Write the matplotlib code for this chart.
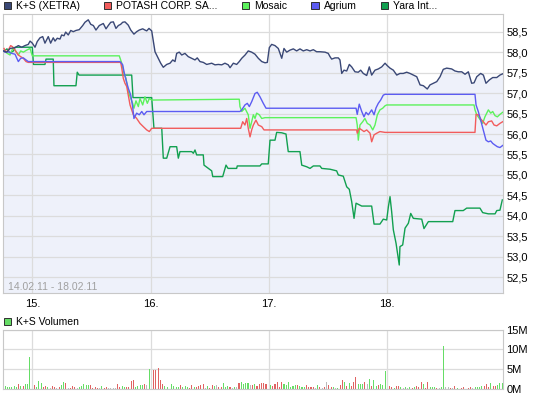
import numpy as np
import matplotlib.pyplot as plt
from matplotlib.patches import Patch

plt.rcParams['font.family'] = ['Liberation Sans', 'DejaVu Sans']

# day position (15. = 15.0 ...) and price
ks_t = [14.755, 14.784, 14.812, 14.854, 14.882, 14.910, 14.938, 14.966, 14.981, 15.000,
        15.023, 15.042, 15.065, 15.088, 15.107, 15.135, 15.155, 15.177, 15.192, 15.211,
        15.234, 15.248, 15.268, 15.282, 15.304, 15.325, 15.346, 15.369, 15.397, 15.426,
        15.445, 15.473, 15.494, 15.516, 15.538, 15.566, 15.600, 15.623, 15.642, 15.663,
        15.685, 15.707, 15.727, 15.747, 15.764, 15.783, 15.811, 15.832, 15.859, 15.882,
        15.904, 15.933, 15.952, 15.967, 15.986, 16.009, 16.023, 16.037, 16.065, 16.085,
        16.107, 16.136, 16.164, 16.187, 16.206, 16.220, 16.242, 16.263, 16.290, 16.318,
        16.347, 16.375, 16.394, 16.417, 16.445, 16.474, 16.516, 16.544, 16.572, 16.601,
        16.628, 16.656, 16.671, 16.699, 16.727, 16.749, 16.770, 16.798, 16.825, 16.854,
        16.882, 16.910, 16.939, 16.967, 16.986, 17.003, 17.023, 17.051, 17.079, 17.108,
        17.127, 17.150, 17.178, 17.206, 17.234, 17.262, 17.290, 17.319, 17.347, 17.375,
        17.403, 17.431, 17.474, 17.501, 17.516, 17.530, 17.558, 17.586, 17.600, 17.615,
        17.634, 17.657, 17.679, 17.699, 17.727, 17.755, 17.775, 17.797, 17.826, 17.848,
        17.868, 17.896, 17.924, 17.953, 17.981, 18.000, 18.023, 18.051, 18.080, 18.107,
        18.135, 18.164, 18.192, 18.220, 18.249, 18.277, 18.305, 18.338, 18.361, 18.389,
        18.418, 18.446, 18.473, 18.502, 18.544, 18.572, 18.600, 18.629, 18.657, 18.685,
        18.713, 18.733, 18.756, 18.789, 18.812, 18.834, 18.862, 18.891, 18.925, 18.952,
        18.975]
ks_p = [58.03, 58.00, 58.09, 58.11, 58.16, 58.12, 58.16, 58.19, 58.27, 58.22,
        58.12, 58.26, 58.35, 58.38, 58.22, 58.38, 58.22, 58.35, 58.27, 58.34,
        58.32, 58.42, 58.40, 58.49, 58.42, 58.53, 58.50, 58.53, 58.55, 58.65,
        58.73, 58.79, 58.68, 58.65, 58.54, 58.65, 58.70, 58.57, 58.65, 58.73,
        58.74, 58.58, 58.65, 58.68, 58.73, 58.74, 58.66, 58.54, 58.44, 58.50,
        58.54, 58.57, 58.54, 58.52, 58.58, 58.52, 58.26, 58.01, 57.85, 57.73,
        57.63, 57.70, 57.73, 57.81, 57.77, 57.97, 58.00, 57.93, 57.97, 57.89,
        57.85, 57.81, 57.86, 57.77, 57.75, 57.70, 57.73, 57.69, 57.70, 57.69,
        57.73, 57.69, 57.62, 57.73, 57.70, 57.77, 57.85, 57.93, 58.03, 58.00,
        57.95, 57.85, 57.77, 57.74, 57.75, 58.11, 58.19, 58.16, 58.09, 57.85,
        58.09, 58.00, 58.05, 58.08, 58.03, 58.08, 58.03, 58.06, 58.03, 58.06,
        58.01, 58.01, 58.00, 57.97, 57.89, 57.83, 57.86, 57.86, 57.81, 57.48,
        57.56, 57.54, 57.70, 57.64, 57.52, 57.51, 57.56, 57.48, 57.43, 57.64,
        57.44, 57.56, 57.59, 57.64, 57.73, 57.67, 57.61, 57.56, 57.44, 57.48,
        57.48, 57.51, 57.48, 57.44, 57.40, 57.20, 57.18, 57.10, 57.20, 57.24,
        57.28, 57.40, 57.58, 57.61, 57.59, 57.54, 57.52, 57.52, 57.46, 57.52,
        57.24, 57.25, 57.40, 57.48, 57.44, 57.24, 57.32, 57.38, 57.38, 57.44,
        57.47]

potash_t = [14.761, 14.778, 14.797, 14.817, 14.834, 14.854, 14.882, 14.902, 14.924, 14.947,
            14.966, 15.747, 15.756, 15.769, 15.783, 15.798, 15.811, 15.826, 15.840, 15.854,
            15.882, 15.910, 15.938, 15.967, 15.989, 16.009, 16.761, 16.778, 16.797, 16.812,
            16.825, 16.840, 16.854, 16.868, 16.890, 16.910, 16.939, 16.958, 17.741, 17.746,
            17.763, 17.784, 17.803, 17.826, 17.854, 17.868, 17.888, 17.911, 17.938, 17.981,
            18.741, 18.750, 18.769, 18.789, 18.811, 18.834, 18.854, 18.882, 18.902, 18.925,
            18.952, 18.975]
potash_p = [58.09, 58.00, 58.05, 58.16, 58.13, 58.05, 57.93, 57.89, 57.85, 57.77,
            57.75, 57.75, 57.61, 57.36, 57.24, 57.16, 56.95, 56.71, 56.59, 56.47,
            56.38, 56.26, 56.18, 56.10, 56.06, 56.14, 56.14, 56.30, 56.22, 56.38,
            56.14, 55.93, 56.10, 56.22, 56.34, 56.22, 56.18, 56.10, 56.10, 56.02,
            56.14, 56.10, 56.06, 56.10, 56.02, 55.81, 55.98, 56.02, 56.06, 56.04,
            56.04, 56.48, 56.47, 56.37, 56.30, 56.22, 56.30, 56.32, 56.22, 56.20,
            56.26, 56.30]

mosaic_t = [14.769, 14.789, 14.812, 14.834, 14.854, 14.882, 14.902, 14.924, 14.953, 14.981,
            15.000, 15.735, 15.756, 15.775, 15.792, 15.811, 15.832, 15.848, 15.859, 15.876,
            15.896, 15.910, 15.933, 15.952, 15.972, 15.989, 16.009, 16.749, 16.755, 16.770,
            16.797, 16.825, 16.840, 16.854, 16.868, 16.882, 16.896, 16.918, 16.939, 16.967,
            17.736, 17.746, 17.755, 17.769, 17.792, 17.811, 17.831, 17.854, 17.877, 17.896,
            17.916, 17.938, 17.961, 17.981, 17.995, 18.733, 18.741, 18.756, 18.778, 18.806,
            18.825, 18.854, 18.874, 18.891, 18.910, 18.930, 18.952, 18.975]
mosaic_p = [58.01, 57.97, 57.93, 58.09, 58.05, 57.93, 58.03, 58.00, 58.05, 58.09,
            57.91, 57.91, 57.73, 57.48, 57.36, 57.03, 56.87, 56.75, 56.63, 56.81,
            56.67, 56.87, 56.71, 56.91, 56.75, 56.87, 56.83, 56.85, 56.67, 56.55,
            56.63, 56.47, 56.14, 56.30, 56.47, 56.38, 56.51, 56.47, 56.38, 56.40,
            56.40, 56.22, 55.85, 56.22, 56.30, 56.38, 56.26, 56.22, 56.10, 56.22,
            56.47, 56.59, 56.63, 56.69, 56.71, 56.71, 56.59, 56.47, 56.38, 56.26,
            56.42, 56.59, 56.51, 56.55, 56.45, 56.42, 56.48, 56.53]

agrium_t = [14.755, 14.769, 14.797, 14.826, 14.854, 14.882, 14.902, 14.924, 14.947, 14.966,
            15.741, 15.764, 15.775, 15.792, 15.811, 15.832, 15.848, 15.859, 15.882, 15.904,
            15.925, 15.944, 15.967, 16.009, 16.755, 16.770, 16.797, 16.817, 16.834, 16.854,
            16.882, 16.901, 16.924, 16.952, 16.975, 17.736, 17.746, 17.763, 17.784, 17.803,
            17.820, 17.840, 17.868, 17.888, 17.905, 17.924, 17.944, 17.966, 17.981, 18.741,
            18.750, 18.769, 18.789, 18.811, 18.834, 18.854, 18.874, 18.891, 18.910, 18.930,
            18.952, 18.975]
agrium_p = [58.03, 58.00, 58.01, 57.97, 57.95, 57.77, 57.85, 57.86, 57.81, 57.77,
            57.77, 57.69, 57.52, 57.32, 57.12, 56.95, 56.67, 56.38, 56.51, 56.47,
            56.55, 56.47, 56.55, 56.55, 56.55, 56.59, 56.71, 56.75, 56.67, 56.79,
            56.99, 57.02, 56.91, 56.75, 56.63, 56.63, 56.48, 56.73, 56.55, 56.42,
            56.53, 56.47, 56.59, 56.47, 56.64, 56.75, 56.83, 56.95, 56.97, 56.97,
            56.71, 56.55, 56.34, 56.10, 55.85, 55.81, 55.83, 55.77, 55.73, 55.69,
            55.67, 55.72]

yara_t = [14.757, 14.786, 14.812, 14.841, 14.854, 15.000, 15.010, 15.107, 15.116, 15.177,
          15.183, 15.369, 15.380, 15.395, 15.840, 15.851, 16.009, 16.028, 16.094, 16.107,
          16.136, 16.164, 16.220, 16.234, 16.248, 16.347, 16.361, 16.375, 16.389, 16.445,
          16.451, 16.516, 16.525, 16.609, 16.637, 16.654, 16.727, 16.732, 16.924, 16.939,
          16.994, 17.009, 17.051, 17.065, 17.108, 17.144, 17.163, 17.262, 17.277, 17.319,
          17.347, 17.375, 17.431, 17.446, 17.516, 17.572, 17.586, 17.628, 17.657, 17.679,
          17.699, 17.719, 17.736, 17.784, 17.868, 17.888, 17.938, 17.966, 17.995, 18.009,
          18.023, 18.037, 18.051, 18.074, 18.101, 18.107, 18.130, 18.150, 18.178, 18.198,
          18.220, 18.291, 18.310, 18.347, 18.553, 18.572, 18.642, 18.671, 18.783, 18.806,
          18.854, 18.911, 18.925, 18.952, 18.972]
yara_p = [58.02, 58.08, 57.98, 58.03, 58.12, 58.12, 57.70, 57.70, 57.83, 57.83,
          57.18, 57.18, 57.51, 57.44, 57.44, 56.89, 56.89, 56.14, 56.14, 55.41,
          55.41, 55.69, 55.69, 55.41, 55.57, 55.57, 55.53, 55.61, 55.49, 55.49,
          55.24, 55.10, 54.96, 54.96, 55.24, 55.16, 55.16, 55.22, 55.22, 55.27,
          55.27, 55.85, 55.85, 56.04, 56.03, 56.00, 55.57, 55.57, 55.24, 55.20,
          55.16, 55.22, 55.22, 55.16, 55.14, 55.10, 55.00, 54.97, 54.71, 54.65,
          54.35, 53.94, 54.31, 54.24, 54.24, 53.80, 53.80, 53.92, 53.90, 54.22,
          54.47, 54.10, 53.66, 53.33, 52.80, 53.25, 53.29, 53.70, 53.82, 54.06,
          53.94, 53.92, 53.69, 53.86, 53.86, 54.13, 54.13, 54.19, 54.19, 54.08,
          54.05, 54.05, 54.13, 54.14, 54.39]

names = ['K+S (XETRA)', 'POTASH CORP. SA...', 'Mosaic', 'Agrium', 'Yara Int...']
colors = ['#3a4876', '#f25c5c', '#5cf25c', '#5c5cf2', '#12a050']

price_ticks = [52.5, 53.0, 53.5, 54.0, 54.5, 55.0, 55.5, 56.0, 56.5, 57.0, 57.5, 58.0, 58.5]
price_labels = ['52,5', '53,0', '53,5', '54,0', '54,5', '55,0', '55,5',
                '56,0', '56,5', '57,0', '57,5', '58,0', '58,5']
day_ticks = [15, 16, 17, 18]
day_labels = ['15.', '16.', '17.', '18.']
vol_ticks = [0, 5, 10, 15]
vol_labels = ['0M', '5M', '10M', '15M']

# K+S volume per interval (Mio.), g = up, r = down, n = unchanged, x = no trade
vol = [0.76, 0.76, 0.5, 0.5, 0.5, 0.76, 0.4, 1.2, 0.76, 0.76, 1.27, 1.27, 8.1, 0,
       1.0, 0.5, 2.0, 1.5, 0.5, 0.76, 0.5, 0.25, 0.76, 0.5, 0.25, 0.5, 0.9, 1.8, 1.5, 0.25,
       0.25, 0.76, 0.5, 0.25, 0.5, 0.76, 1.27, 1.0, 1.0, 1.0, 0.25, 0.5, 0.25, 0.25, 0.76,
       0.25, 0.5, 0.25, 0.25, 0.25, 0.25, 1.27, 0.5, 0.76, 0.5, 0.5, 0.5, 2.0, 2.3, 0.5,
       0.76, 1.0, 1.0, 1.27, 1.0, 5.1,
       0,
       4.8, 4.8, 5.2, 2.3, 1.27, 0.76, 0.5, 0, 1.27, 0.76,
       0.5, 0.5, 1.0, 0.5, 0.76, 0.5, 0.25, 1.0, 0.5, 0.5, 0.76, 1.0, 1.27, 0.25, 0.76,
       0.25, 1.0, 0.76, 1.0, 0.5, 0.5, 1.5, 0.5, 0.76, 0.5, 0.25, 0.5, 0.5, 1.5, 1.8,
       1.27, 1.5, 1.5, 1.0, 1.0, 1.27, 0.76, 1.27, 1.5, 1.5, 1.27, 0, 1.0, 0.76, 1.27,
       1.8, 0.5, 1.8, 1.27, 1.0, 1.8, 0.5, 0.76, 1.0, 1.0, 0.76, 0.5, 0.5, 1.0, 0.5,
       0.5, 0.5, 0.25, 1.0, 0.5, 0.25, 0.5, 1.8, 1.0, 0.5, 0.5, 0.25, 0.25, 1.0, 2.3,
       1.8, 0.8, 1.4, 0.8, 1.8,
       3.05, 1.3, 1.3, 1.3, 1.8, 1.3, 2.5, 0.76, 2.3, 0.76, 1.1, 1.3, 1.1, 4.6, 0,
       0.76, 0.5, 0.25, 0.76, 0.76, 0.5, 0.25, 0.5, 0.25, 0.5, 0.25, 0.5, 0.76, 0.5, 1.8,
       1.3, 0.25, 1.8, 0.5, 0.5, 0.5, 0.25, 0.25, 0.5, 10.9, 0.5, 0.5, 0.25, 0.25, 0.76,
       0.25, 0.1, 0.25, 0.5, 0.1, 0.25, 0.5, 0.25, 0.5, 0.5, 0.5, 0.76, 0.76, 1.3, 0.5,
       1.5, 0.76, 0.76, 1.0, 1.5, 1.5]
vol_dir = ('rggggggrgrgggx'
           'rgggrrgnrr' 'nrggrnrrrn' 'gggggrrrrn' 'grrnnnnrrg' 'grrrrggggr' 'ng'
           'x'
           'rrrrrggxgg'
           'ggrgggrrgr' 'rrrngrrgnr' 'rgggrngnrg' 'gggnrgrrrr'
           'rxgrrrrrgg' 'ggggrgggrr' 'rrngrnrnrr' 'gngrrgrgrr'
           'rgggrngrgg' 'rgggxrrgrr' 'gngngrgrrr' 'grrgggrngg'
           'nnrnrgnrrn' 'rrnggggrrr' 'grrggg')
vol_start = 14.752   # first interval on 14.02.
vol_step = 0.019     # ~10 min in day units
assert len(vol) == len(vol_dir)

dir_colors = {'g': '#66dd66', 'r': '#e06262', 'n': '#bbbbbb', 'x': '#bbbbbb'}

fig = plt.figure(figsize=(5.45, 3.98), dpi=100)
ax = fig.add_axes([3 / 545, 104.7 / 398, 500 / 545, 279.3 / 398])
axv = fig.add_axes([3 / 545, 9 / 398, 500 / 545, 59.3 / 398])

x_min, x_max = 14.7524, 18.9778
y_min, y_max = 52.109, 58.932

ax.fill_between(ks_t, ks_p, y_min, color='#eef1fa', lw=0, zorder=1)
series = [(ks_t, ks_p), (potash_t, potash_p), (mosaic_t, mosaic_p),
          (agrium_t, agrium_p), (yara_t, yara_p)]
for (t, p), c, z in zip(series, colors, [6, 4, 3, 5, 2]):
    ax.plot(t, p, color=c, lw=1.0, zorder=z)

ax.set_xlim(x_min, x_max)
ax.set_ylim(y_min, y_max)
ax.yaxis.tick_right()
ax.set_yticks(price_ticks, price_labels)
ax.set_xticks(day_ticks, day_labels)
ax.tick_params(length=0, labelsize=8, colors='black')
ax.tick_params(axis='y', pad=2.5)
ax.tick_params(axis='x', pad=4)
ax.grid(color='#dcdcdc', lw=0.9)
for s in ax.spines.values():
    s.set_color('#c8c8c8')
    s.set_linewidth(0.8)
ax.text(0.01, 0.0236, '14.02.11 - 18.02.11', transform=ax.transAxes,
        color='#a0a0a0', fontsize=7.5, va='center', ha='left')

handles = [Patch(facecolor=c, edgecolor='#303030', lw=0.7) for c in colors]
fig.legend(handles, names, ncol=5, loc='center left', bbox_to_anchor=(3.5 / 545, 1 - 6.3 / 398),
           frameon=False, fontsize=7.5, handlelength=0.7, handleheight=0.7,
           handletextpad=0.5, columnspacing=2.3, borderpad=0, borderaxespad=0)

# volume panel
vx = vol_start + vol_step * np.arange(len(vol))
axv.bar(vx, vol, width=0.009, color=[dir_colors[d] for d in vol_dir],
        antialiased=False, zorder=2)
axv.set_xlim(x_min, x_max)
axv.set_ylim(0, 15)
axv.yaxis.tick_right()
axv.set_yticks(vol_ticks, vol_labels)
axv.set_xticks(day_ticks, [])
axv.tick_params(length=0, labelsize=8, pad=2.5)
axv.grid(color='#dcdcdc', lw=0.9)
for s in axv.spines.values():
    s.set_color('#c8c8c8')
    s.set_linewidth(0.8)
fig.legend([Patch(facecolor='#66dd66', edgecolor='#303030', lw=0.7)], ['K+S Volumen'],
           loc='center left', bbox_to_anchor=(3.5 / 545, 1 - 322 / 398),
           frameon=False, fontsize=7.5, handlelength=0.7, handleheight=0.7,
           handletextpad=0.5, borderpad=0, borderaxespad=0)

fig.savefig('out.png', dpi=100)
